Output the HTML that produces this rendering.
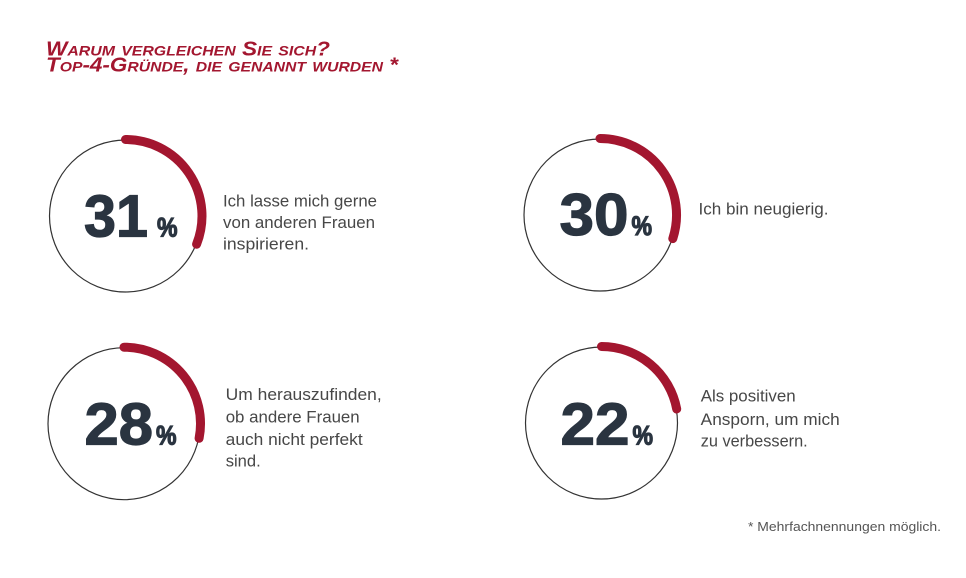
<!DOCTYPE html>
<html><head><meta charset="utf-8"><style>
html,body{margin:0;padding:0;background:#fff;}
svg{display:block;}
.t{font-family:"Liberation Sans",sans-serif;font-weight:bold;font-style:italic;font-variant:small-caps;fill:#a3162f;font-size:20px;}
.n{font-family:"Liberation Sans",sans-serif;font-weight:bold;fill:#2a3440;stroke:#2a3440;stroke-width:1.2;}
.b{font-family:"Liberation Sans",sans-serif;fill:#474747;font-size:17px;}
.f{font-family:"Liberation Sans",sans-serif;fill:#555;font-size:13px;}
</style></head><body>
<svg width="966" height="578" viewBox="0 0 966 578" xmlns="http://www.w3.org/2000/svg">
<rect width="966" height="578" fill="#fff"/>
<text class="t" x="46" y="55.5" textLength="284" lengthAdjust="spacingAndGlyphs">Warum vergleichen Sie sich?</text>
<text class="t" x="46" y="71.5" textLength="352" lengthAdjust="spacingAndGlyphs">Top-4-Gründe, die genannt wurden *</text>

<!-- circle 1 -->
<circle cx="125.5" cy="216" r="76" fill="none" stroke="#333" stroke-width="1.2"/>
<path d="M125.5 139.5 A76.5 76.5 0 0 1 196.6 244.2" fill="none" stroke="#a3162f" stroke-width="9" stroke-linecap="round"/>
<text class="n" x="84" y="236.7" font-size="59" textLength="64" lengthAdjust="spacingAndGlyphs">31</text>
<text class="n" x="157" y="236.7" font-size="27" textLength="20.5" lengthAdjust="spacingAndGlyphs">%</text>
<text class="b" x="223" y="206.7" textLength="154" lengthAdjust="spacingAndGlyphs">Ich lasse mich gerne</text>
<text class="b" x="223" y="228" textLength="152" lengthAdjust="spacingAndGlyphs">von anderen Frauen</text>
<text class="b" x="223" y="249.5" textLength="86" lengthAdjust="spacingAndGlyphs">inspirieren.</text>

<!-- circle 2 -->
<circle cx="600" cy="215" r="76" fill="none" stroke="#333" stroke-width="1.2"/>
<path d="M600 138.5 A76.5 76.5 0 0 1 672.8 238.6" fill="none" stroke="#a3162f" stroke-width="9" stroke-linecap="round"/>
<text class="n" x="559.5" y="235" font-size="59" textLength="69" lengthAdjust="spacingAndGlyphs">30</text>
<text class="n" x="631.5" y="235" font-size="27" textLength="20.5" lengthAdjust="spacingAndGlyphs">%</text>
<text class="b" x="698.5" y="214.3" textLength="130" lengthAdjust="spacingAndGlyphs">Ich bin neugierig.</text>

<!-- circle 3 -->
<circle cx="124" cy="423.7" r="76" fill="none" stroke="#333" stroke-width="1.2"/>
<path d="M124 347.2 A76.5 76.5 0 0 1 199.1 438.3" fill="none" stroke="#a3162f" stroke-width="9" stroke-linecap="round"/>
<text class="n" x="84.5" y="444.3" font-size="59" textLength="68.5" lengthAdjust="spacingAndGlyphs">28</text>
<text class="n" x="156" y="444.3" font-size="27" textLength="20.5" lengthAdjust="spacingAndGlyphs">%</text>
<text class="b" x="225.7" y="400" textLength="156" lengthAdjust="spacingAndGlyphs">Um herauszufinden,</text>
<text class="b" x="225.7" y="422.3" textLength="134" lengthAdjust="spacingAndGlyphs">ob andere Frauen</text>
<text class="b" x="225.7" y="445" textLength="137" lengthAdjust="spacingAndGlyphs">auch nicht perfekt</text>
<text class="b" x="225.7" y="466.7" textLength="35" lengthAdjust="spacingAndGlyphs">sind.</text>

<!-- circle 4 -->
<circle cx="601.5" cy="423" r="76" fill="none" stroke="#333" stroke-width="1.2"/>
<path d="M601.5 346.5 A76.5 76.5 0 0 1 676.7 409.0" fill="none" stroke="#a3162f" stroke-width="9" stroke-linecap="round"/>
<text class="n" x="560.5" y="444.3" font-size="59" textLength="69" lengthAdjust="spacingAndGlyphs">22</text>
<text class="n" x="632.5" y="444.3" font-size="27" textLength="20.5" lengthAdjust="spacingAndGlyphs">%</text>
<text class="b" x="700.7" y="401.7" textLength="95" lengthAdjust="spacingAndGlyphs">Als positiven</text>
<text class="b" x="700.7" y="425" textLength="139" lengthAdjust="spacingAndGlyphs">Ansporn, um mich</text>
<text class="b" x="700.7" y="446.7" textLength="107" lengthAdjust="spacingAndGlyphs">zu verbessern.</text>

<text class="f" x="748" y="531" textLength="193" lengthAdjust="spacingAndGlyphs">* Mehrfachnennungen möglich.</text>
</svg>
</body></html>
